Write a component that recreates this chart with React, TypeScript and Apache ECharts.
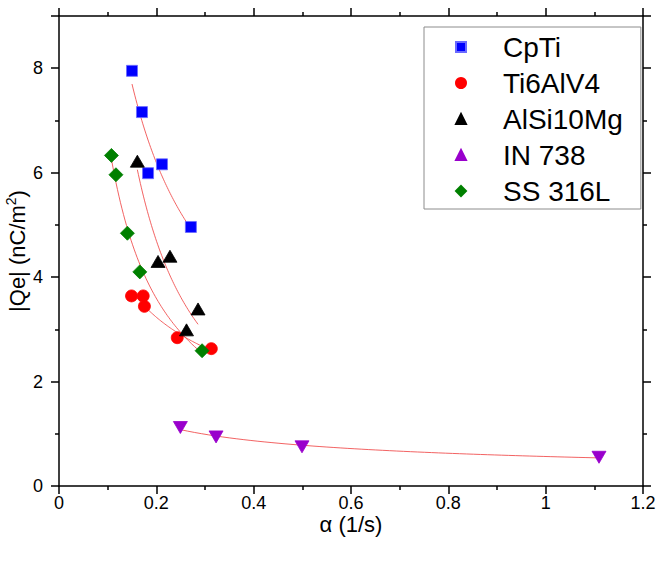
import React, { useEffect, useRef } from 'react';
import * as echarts from 'echarts';

const seriesNames = ['CpTi', 'Ti6AlV4', 'AlSi10Mg', 'IN 738', 'SS 316L'];

const cpTiAlpha = [0.150, 0.1705, 0.183, 0.2116, 0.271];
const cpTiQe = [7.95, 7.16, 5.99, 6.16, 4.96];

const ti6Alpha = [0.149, 0.173, 0.1755, 0.243, 0.313];
const ti6Qe = [3.64, 3.64, 3.44, 2.84, 2.63];

const alSiAlpha = [0.161, 0.2035, 0.228, 0.262, 0.2857];
const alSiQe = [6.22, 4.30, 4.40, 2.99, 3.39];

const inAlpha = [0.2494, 0.3227, 0.4993, 1.1096];
const inQe = [1.12, 0.94, 0.75, 0.55];

const ssAlpha = [0.1077, 0.117, 0.1405, 0.166, 0.294];
const ssQe = [6.33, 5.96, 4.84, 4.10, 2.59];

const FONT = "'Liberation Sans', Arial, sans-serif";

// power-law least-squares fit (log-log) of a data set, sampled over its x range
function powerFit(xs: number[], ys: number[]) {
  const lx = xs.map(Math.log);
  const ly = ys.map(Math.log);
  const n = xs.length;
  const mx = lx.reduce((a, b) => a + b, 0) / n;
  const my = ly.reduce((a, b) => a + b, 0) / n;
  let sxy = 0, sxx = 0;
  for (let i = 0; i < n; i++) {
    sxy += (lx[i] - mx) * (ly[i] - my);
    sxx += (lx[i] - mx) * (lx[i] - mx);
  }
  const b = sxy / sxx;
  const a = Math.exp(my - b * mx);
  const x0 = Math.min(...xs);
  const x1 = Math.max(...xs);
  const pts: number[][] = [];
  const steps = 60;
  for (let i = 0; i <= steps; i++) {
    const x = x0 + ((x1 - x0) * i) / steps;
    pts.push([x, a * Math.pow(x, b)]);
  }
  return pts;
}

const zip = (xs: number[], ys: number[]) => xs.map((x, i) => [x, ys[i]]);

export default function App() {
  const ref = useRef<HTMLDivElement>(null);
  useEffect(() => {
    if (!ref.current) return;
    const chart = echarts.init(ref.current, null, { renderer: 'svg' });

    const sets = [
      { name: seriesNames[0], x: cpTiAlpha, y: cpTiQe, color: '#0000ff', symbol: 'rect', size: 11, rotate: 0, border: '#6a6aff' },
      { name: seriesNames[1], x: ti6Alpha, y: ti6Qe, color: '#ff0000', symbol: 'circle', size: 12, rotate: 0, border: '#ff0000' },
      { name: seriesNames[2], x: alSiAlpha, y: alSiQe, color: '#000000', symbol: 'triangle', size: [14, 12], rotate: 0, border: '#000000' },
      { name: seriesNames[3], x: inAlpha, y: inQe, color: '#9900cc', symbol: 'triangle', size: [14, 12], rotate: 180, border: '#9900cc' },
      { name: seriesNames[4], x: ssAlpha, y: ssQe, color: '#008000', symbol: 'diamond', size: [14, 14], rotate: 0, border: '#008000' },
    ];

    const scatterSeries = sets.map((s) => ({
      type: 'scatter',
      name: s.name,
      data: zip(s.x, s.y),
      symbol: s.symbol,
      symbolSize: s.size,
      symbolRotate: s.rotate,
      itemStyle: { color: s.color, borderColor: s.border, borderWidth: 0.8, opacity: 1 },
      z: 3,
    }));

    const fitSeries = sets.map((s) => ({
      type: 'line',
      name: s.name + ' fit',
      data: powerFit(s.x, s.y),
      showSymbol: false,
      symbol: 'none',
      smooth: false,
      lineStyle: { color: '#f04848', width: 1, opacity: 0.85 },
      z: 2,
      silent: true,
    }));

    const axisLine = { show: true, onZero: false, lineStyle: { color: '#000', width: 1.5 } };

    chart.setOption({
      animation: false,
      backgroundColor: '#fff',
      grid: { left: 59, right: 19, top: 16, bottom: 81, containLabel: false, outerBoundsMode: 'none' },
      legend: {
        orient: 'vertical',
        left: 424,
        top: 27,
        data: seriesNames,
        itemWidth: 10,
        itemHeight: 10,
        itemGap: 8,
        padding: [6, 18, 4, 31],
        borderColor: '#8c8c8c',
        borderWidth: 1,
        backgroundColor: '#fff',
        textStyle: { fontSize: 28, fontFamily: FONT, color: '#000', lineHeight: 28, padding: [0, 0, 0, 32] },
      },
      xAxis: [
        {
          type: 'value',
          min: 0,
          max: 1.2,
          interval: 0.2,
          name: 'α (1/s)',
          nameLocation: 'middle',
          nameGap: 27,
          nameMoveOverlap: false,
          nameTextStyle: { fontSize: 22, fontFamily: FONT, color: '#000' },
          axisLine,
          axisTick: { show: true, length: 8, lineStyle: { color: '#000', width: 1.5 } },
          minorTick: { show: true, splitNumber: 2, length: 4, lineStyle: { color: '#000', width: 1.5 } },
          splitLine: { show: false },
          axisLabel: { fontSize: 18, fontFamily: FONT, color: '#000', margin: 8, formatter: (v: number) => String(+v.toFixed(1)) },
        },
        {
          type: 'value',
          position: 'top',
          min: 0,
          max: 1.2,
          interval: 0.2,
          axisLine,
          axisTick: { show: true, length: 8, lineStyle: { color: '#000', width: 1.5 } },
          minorTick: { show: true, splitNumber: 2, length: 4, lineStyle: { color: '#000', width: 1.5 } },
          splitLine: { show: false },
          axisLabel: { show: false },
        },
      ],
      yAxis: [
        {
          type: 'value',
          min: 0,
          max: 9,
          interval: 2,
          name: '{t||Qe| (nC/m}{s|2}{t|)}',
          nameLocation: 'middle',
          nameGap: 29,
          nameMoveOverlap: false,
          nameTextStyle: {
            fontSize: 22,
            fontFamily: FONT,
            color: '#000',
            rich: {
              t: { fontSize: 22, fontFamily: FONT, color: '#000' },
              s: { fontSize: 14, fontFamily: FONT, color: '#000', padding: [0, 0, 12, 0] },
            },
          },
          axisLine,
          axisTick: { show: true, length: 8, lineStyle: { color: '#000', width: 1.5 } },
          minorTick: { show: true, splitNumber: 2, length: 4, lineStyle: { color: '#000', width: 1.5 } },
          splitLine: { show: false },
          axisLabel: { fontSize: 18, fontFamily: FONT, color: '#000', margin: 16, showMaxLabel: false },
        },
        {
          type: 'value',
          position: 'right',
          min: 0,
          max: 9,
          interval: 2,
          axisLine,
          axisTick: { show: true, length: 8, lineStyle: { color: '#000', width: 1.5 } },
          minorTick: { show: true, splitNumber: 2, length: 4, lineStyle: { color: '#000', width: 1.5 } },
          splitLine: { show: false },
          axisLabel: { show: false },
        },
      ],
      series: [...fitSeries, ...scatterSeries],
    });

    return () => chart.dispose();
  }, []);

  return <div ref={ref} style={{ width: 662, height: 567, position: 'absolute', left: 0, top: 0 }} />;
}
